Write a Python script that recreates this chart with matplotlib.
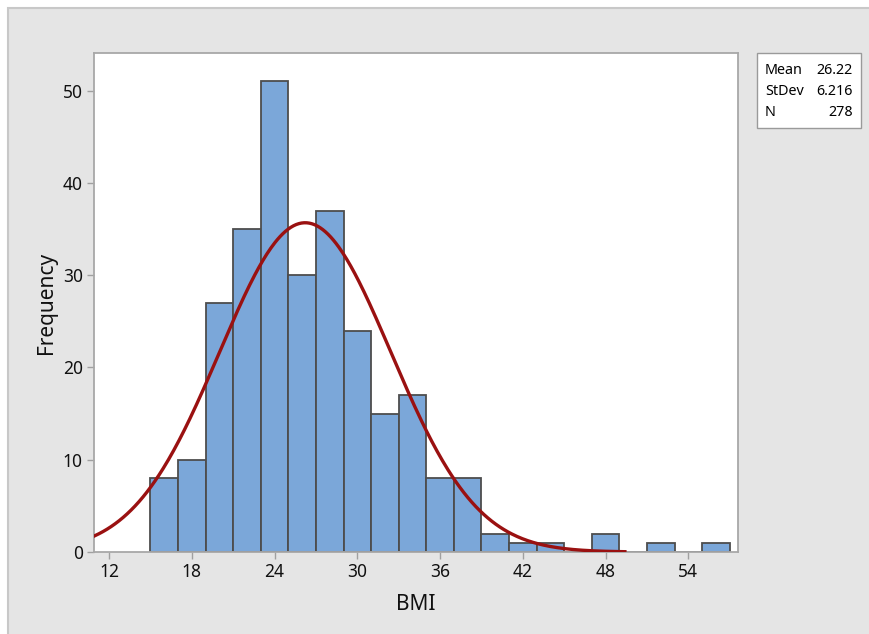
import matplotlib
matplotlib.use("Agg")
import matplotlib.pyplot as plt
import numpy as np
from matplotlib.patches import Rectangle

# histogram data (bin edges width 2, from 15 to 57)
bin_edges = [15, 17, 19, 21, 23, 25, 27, 29, 31, 33, 35, 37, 39, 41, 43, 45, 47, 49, 51, 53, 55, 57]
counts = [8, 10, 27, 35, 51, 30, 37, 24, 15, 17, 8, 8, 2, 1, 1, 0, 2, 0, 1, 0, 1]
x_ticks = [12, 18, 24, 30, 36, 42, 48, 54]
y_ticks = [0, 10, 20, 30, 40, 50]
MEAN = 26.22
STDEV = 6.216
N = 278

W, H = 869, 634
plt.rcParams["font.family"] = ["Noto Sans", "DejaVu Sans"]

fig = plt.figure(figsize=(W / 100, H / 100), dpi=100)
fig.patch.set_facecolor("white")
fig.patches.append(Rectangle((8 / W, -0.01), 1.0, 1 - 8 / H + 0.01, transform=fig.transFigure,
                             facecolor="#e5e5e5", edgecolor="#c8c8c8", linewidth=1.5, zorder=-5))

ax = fig.add_axes([94 / W, 1 - 552 / H, (738 - 94) / W, (552 - 53) / H])
ax.set_zorder(2)
ax.set_facecolor("white")

widths = np.diff(bin_edges)
ax.bar(bin_edges[:-1], counts, width=widths, align="edge", color="#7ba7d9",
       edgecolor="#4d4d4d", linewidth=1.3, zorder=2)

# fitted normal curve
bw = widths[0]
xs = np.linspace(10.9, 49.4, 400)
ys = N * bw * np.exp(-0.5 * ((xs - MEAN) / STDEV) ** 2) / (STDEV * np.sqrt(2 * np.pi))
ax.plot(xs, ys, color="#9a1111", linewidth=2.4, zorder=3)

ax.set_xlim(10.91, 57.6)
ax.set_ylim(0, 54.08)
ax.set_xticks(x_ticks)
ax.set_yticks(y_ticks)
ax.tick_params(direction="out", length=5, width=1, color="#a0a0a0", labelsize=12.5,
               labelcolor="#111111", pad=3)
for s in ax.spines.values():
    s.set_color("#a8a8a8")
    s.set_linewidth(1.3)

ax.set_xlabel("BMI", fontsize=15, labelpad=9, color="#111111")
ax.set_ylabel("Frequency", fontsize=15, labelpad=4, color="#111111")

# statistics box
lx0, ly0, lx1, ly1 = 757, 53, 861, 128
fig.patches.append(Rectangle((lx0 / W, 1 - ly1 / H), (lx1 - lx0) / W, (ly1 - ly0) / H,
                             transform=fig.transFigure, facecolor="white",
                             edgecolor="#9a9a9a", linewidth=1.0, zorder=1))
rows = [("Mean", f"{MEAN:.2f}"), ("StDev", f"{STDEV:.3f}"), ("N", f"{N}")]
for i, (k, v) in enumerate(rows):
    yy = 1 - (70 + i * 21.5) / H
    fig.text(765 / W, yy, k, fontsize=10.3, va="center", ha="left", zorder=3)
    fig.text(853 / W, yy, v, fontsize=10.3, va="center", ha="right", zorder=3)

fig.savefig("out.png", dpi=100)
